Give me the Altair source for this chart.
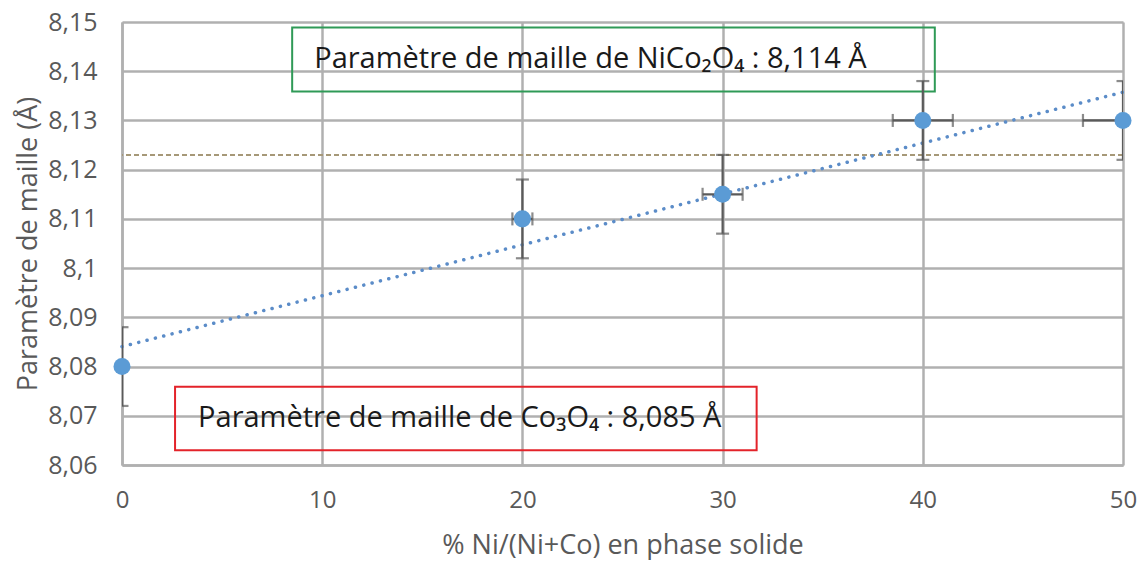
import altair as alt
import pandas as pd

# ---- data ----
ni_pct = [0, 20, 30, 40, 50]                      # % Ni/(Ni+Co)
lattice = [8.080, 8.110, 8.115, 8.130, 8.130]      # lattice parameter (Å)
y_err = [0.008, 0.008, 0.008, 0.008, 0.008]
x_err = [0.0, 0.5, 1.0, 1.5, 2.0]

ref_level = [8.123]

x_ticks = [0, 10, 20, 30, 40, 50]
y_ticks = [8.06, 8.07, 8.08, 8.09, 8.10, 8.11, 8.12, 8.13, 8.14, 8.15]

box_labels = ["Paramètre de maille de NiCo₂O₄ : 8,114 Å",
              "Paramètre de maille de Co₃O₄ : 8,085 Å"]
box_x1 = [8.5, 2.65]
box_x2 = [40.6, 31.7]
box_y1 = [8.1359, 8.0630]
box_y2 = [8.1489, 8.0759]
box_text_x = [9.6, 3.8]
box_text_y = [8.1424, 8.0695]
box_colors = ["#2f9a57", "#e3232a"]

# ---- tables ----
pts = pd.DataFrame({
    "x": ni_pct, "y": lattice,
    "ylo": [v - e for v, e in zip(lattice, y_err)],
    "yhi": [v + e for v, e in zip(lattice, y_err)],
    "xlo": [v - e for v, e in zip(ni_pct, x_err)],
    "xhi": [v + e for v, e in zip(ni_pct, x_err)],
})
xerr_df = pts[[e > 0 for e in x_err]]
ref_df = pd.DataFrame({"y": ref_level})
boxes = pd.DataFrame({"label": box_labels, "x1": box_x1, "x2": box_x2,
                      "y1": box_y1, "y2": box_y2, "tx": box_text_x,
                      "ty": box_text_y, "color": box_colors})

FONT = "Open Sans"
GREY = "#595959"
GRID = "#b0b0b0"
ERR = "#5a5a5a"
BLUE = "#5b9bd5"

xscale = alt.Scale(domain=[0, 50], nice=False, zero=False)
yscale = alt.Scale(domain=[8.06, 8.15], nice=False, zero=False)

x_axis = alt.Axis(values=x_ticks, title="% Ni/(Ni+Co) en phase solide",
                  labelExpr="replace(format(datum.value, '.2~f'), '.', ',')",
                  labelFontSize=24, labelColor=GREY, labelFont=FONT,
                  labelPadding=35, labelBaseline="middle", labelFlush=False,
                  ticks=False, tickSize=0, domainColor=GRID, domainWidth=2.5,
                  gridColor=GRID, gridWidth=2.5,
                  titleFont=FONT, titleFontSize=27, titleFontWeight="normal",
                  titleColor=GREY, titleBaseline="alphabetic", titleY=88)
y_axis = alt.Axis(values=y_ticks, title="Paramètre de maille (Å)",
                  labelExpr="replace(format(datum.value, '.2~f'), '.', ',')",
                  labelFontSize=25, labelColor=GREY, labelFont=FONT,
                  labelPadding=25, labelFlush=False, ticks=False, tickSize=0,
                  domainColor=GRID, domainWidth=2.5,
                  gridColor=GRID, gridWidth=2.5,
                  titleFont=FONT, titleFontSize=27, titleFontWeight="normal",
                  titleColor=GREY, titleBaseline="alphabetic", titleX=-86,
                  titleY=221.5, titleAngle=270)

base = alt.Chart(pts)

axes_layer = base.mark_point(opacity=0).encode(
    x=alt.X("x:Q", scale=xscale, axis=x_axis),
    y=alt.Y("y:Q", scale=yscale, axis=y_axis),
)

ref_line = alt.Chart(ref_df).mark_rule(
    color="#a69878", strokeWidth=2, strokeDash=[5, 3]
).encode(y=alt.Y("y:Q", scale=yscale))

box_rects = alt.Chart(boxes).mark_rect(fillOpacity=0, strokeWidth=2).encode(
    x=alt.X("x1:Q", scale=xscale), x2="x2:Q",
    y=alt.Y("y1:Q", scale=yscale), y2="y2:Q",
    stroke=alt.Stroke("color:N", scale=None),
)
box_texts = alt.Chart(boxes).mark_text(
    align="left", baseline="middle", font=FONT, fontSize=29, color="#1a1a1a"
).encode(
    x=alt.X("tx:Q", scale=xscale), y=alt.Y("ty:Q", scale=yscale),
    text="label:N",
)

trend = base.transform_regression("x", "y", extent=[0, 50]).mark_line(
    color="#5b8cc8", strokeWidth=3.5, strokeDash=[0.1, 8.5], strokeCap="round"
).encode(x=alt.X("x:Q", scale=xscale), y=alt.Y("y:Q", scale=yscale))

y_bars = base.mark_rule(color=ERR, strokeWidth=2.2, clip=True).encode(
    x=alt.X("x:Q", scale=xscale), y=alt.Y("ylo:Q", scale=yscale), y2="yhi:Q")
y_cap_lo = base.mark_tick(color=ERR, orient="horizontal", size=13,
                          thickness=2.2, clip=True).encode(
    x=alt.X("x:Q", scale=xscale), y=alt.Y("ylo:Q", scale=yscale))
y_cap_hi = base.mark_tick(color=ERR, orient="horizontal", size=13,
                          thickness=2.2, clip=True).encode(
    x=alt.X("x:Q", scale=xscale), y=alt.Y("yhi:Q", scale=yscale))

xbase = alt.Chart(xerr_df)
x_bars = xbase.mark_rule(color=ERR, strokeWidth=2.2, clip=True).encode(
    x=alt.X("xlo:Q", scale=xscale), x2="xhi:Q", y=alt.Y("y:Q", scale=yscale))
x_cap_lo = xbase.mark_tick(color=ERR, orient="vertical", size=13,
                           thickness=2.2, clip=True).encode(
    x=alt.X("xlo:Q", scale=xscale), y=alt.Y("y:Q", scale=yscale))
x_cap_hi = xbase.mark_tick(color=ERR, orient="vertical", size=13,
                           thickness=2.2, clip=True).encode(
    x=alt.X("xhi:Q", scale=xscale), y=alt.Y("y:Q", scale=yscale))

points = base.mark_circle(size=290, color=BLUE, opacity=1).encode(
    x=alt.X("x:Q", scale=xscale), y=alt.Y("y:Q", scale=yscale))

chart = alt.layer(
    axes_layer, ref_line, box_rects, box_texts, trend,
    y_bars, y_cap_lo, y_cap_hi, x_bars, x_cap_lo, x_cap_hi, points
).properties(
    width=1001, height=443,
    autosize=alt.AutoSizeParams(type="none"),
    padding={"left": 114, "top": 14, "right": 14, "bottom": 95},
).configure_view(stroke=None).configure(background="white")

chart.save("out.html", embed_options={"renderer": "svg", "actions": False})
